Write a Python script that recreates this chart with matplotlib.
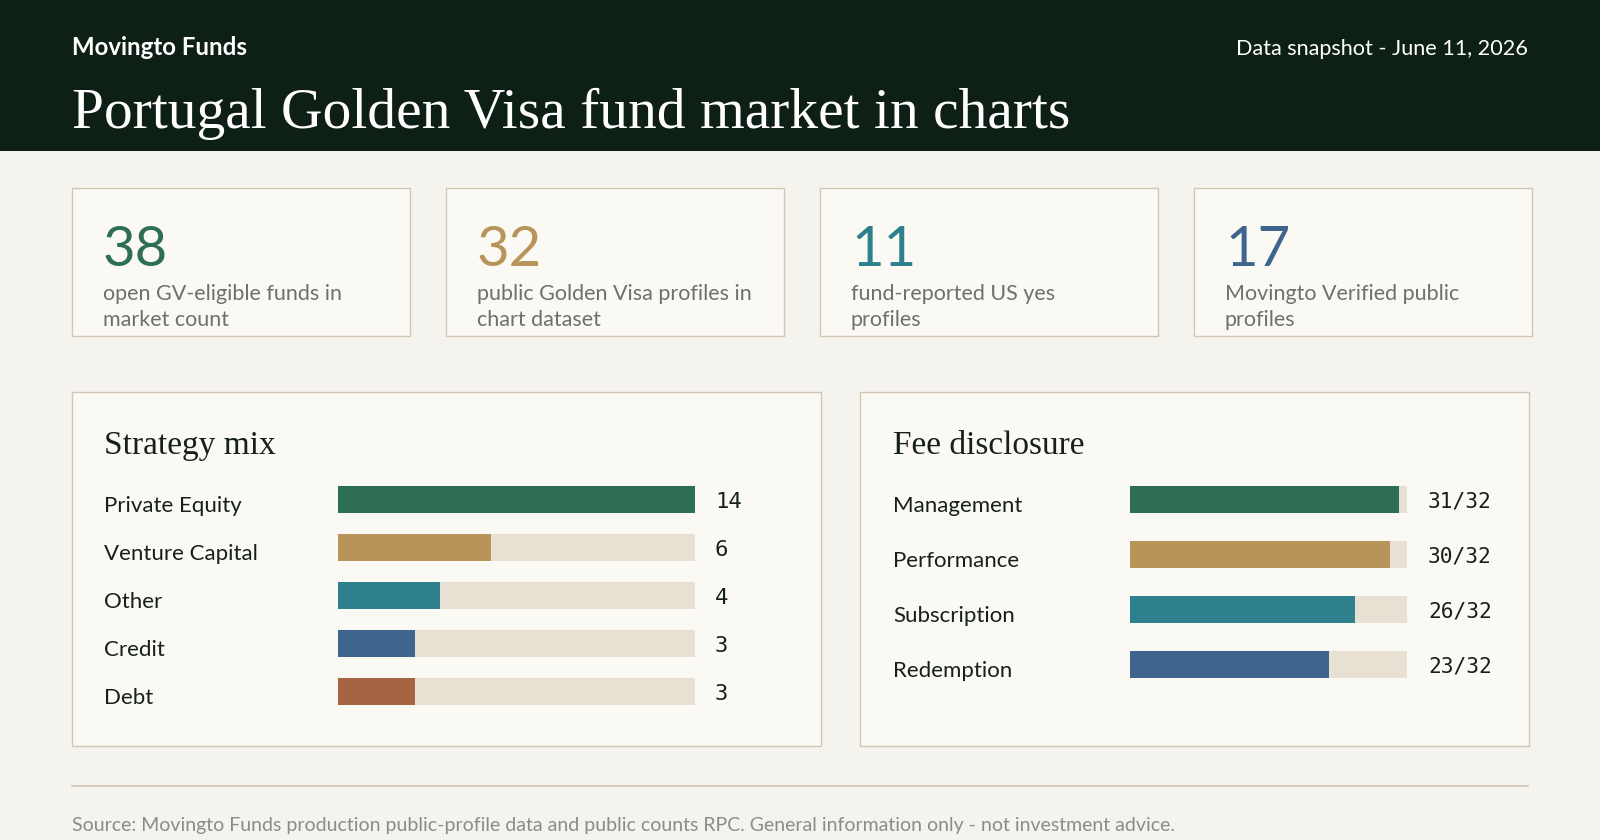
import matplotlib
matplotlib.use("Agg")
import matplotlib.pyplot as plt
import matplotlib.transforms as mtransforms
from matplotlib.patches import Rectangle

# ---- data ----
kpi_values = [38, 32, 11, 17]
kpi_labels = [
    ["open GV-eligible funds in", "market count"],
    ["public Golden Visa profiles in", "chart dataset"],
    ["fund-reported US yes", "profiles"],
    ["Movingto Verified public", "profiles"],
]
strategy_names = ["Private Equity", "Venture Capital", "Other", "Credit", "Debt"]
strategy_counts = [14, 6, 4, 3, 3]
fee_names = ["Management", "Performance", "Subscription", "Redemption"]
fee_disclosed = [31, 30, 26, 23]
fee_total = 32

# ---- style ----
BG = "#f5f3ee"
HEADER = "#0e1f16"
CARD = "#fbf9f4"
BORDER = "#d3c6b2"
TRACK = "#e8e0d3"
INK = "#16201b"
MUTED = "#6d7169"
palette = ["#2e6e52", "#b8935a", "#2e808c", "#3f658e", "#a56542"]

SANS = ["Lato", "DejaVu Sans"]
SERIF = ["Liberation Serif", "DejaVu Serif"]
MONO = ["DejaVu Sans Mono"]

W, H = 1600, 840
fig = plt.figure(figsize=(16, 8.4), dpi=100, facecolor=BG)
bg = fig.add_axes([0, 0, 1, 1])
bg.set_xlim(0, W)
bg.set_ylim(H, 0)
bg.axis("off")
bg.set_zorder(0)


def px_axes(x, y, w, h):
    return fig.add_axes([x / W, 1 - (y + h) / H, w / W, h / H])


# header band
bg.add_patch(Rectangle((0, 0), W, 151, color=HEADER, lw=0))
bg.text(72, 55, "Movingto Funds", color="white", fontsize=17.3, fontweight="bold",
        family=SANS, va="baseline")
bg.text(1528, 55, "Data snapshot - June 11, 2026", color="white", fontsize=15.6,
        family=SANS, va="baseline", ha="right")
bg.text(72, 128, "Portugal Golden Visa fund market in charts", color="white",
        fontsize=41.4, family=SERIF, va="baseline")

# KPI cards
card_x = [72, 446, 820, 1194]
for i, (val, lines) in enumerate(zip(kpi_values, kpi_labels)):
    x0 = card_x[i]
    bg.add_patch(Rectangle((x0, 188), 338, 148, facecolor=CARD, edgecolor=BORDER, lw=1))
    bg.text(x0 + 31, 266, str(val), color=palette[i], fontsize=40.5,
            family=SANS, va="baseline")
    for j, line in enumerate(lines):
        bg.text(x0 + 31, 300 + 26 * j, line, color=MUTED, fontsize=15.5,
                family=SANS, va="baseline")

# chart panels
bg.add_patch(Rectangle((72, 392), 749, 354, facecolor=CARD, edgecolor=BORDER, lw=1))
bg.add_patch(Rectangle((860, 392), 669, 354, facecolor=CARD, edgecolor=BORDER, lw=1))
bg.text(104, 454, "Strategy mix", color=INK, fontsize=24, family=SERIF, va="baseline")
bg.text(893, 454, "Fee disclosure", color=INK, fontsize=24, family=SERIF, va="baseline")

# strategy bars
ax1 = px_axes(338, 475.3, 357.3, 240)
ax1.patch.set_alpha(0)
ax1.axis("off")
rows = range(len(strategy_names))
track_max = max(strategy_counts)
ax1.barh(rows, [track_max] * len(strategy_names), height=26.7 / 48, color=TRACK, lw=0)
ax1.barh(rows, strategy_counts, height=26.7 / 48, color=palette[:len(strategy_names)], lw=0)
ax1.set_xlim(0, track_max)
ax1.set_ylim(len(strategy_names) - 0.5, -0.5)
tr1 = mtransforms.blended_transform_factory(bg.transData, ax1.transData)
for i, (name, cnt) in enumerate(zip(strategy_names, strategy_counts)):
    ax1.annotate(name, xy=(104, i), xycoords=tr1, xytext=(0, -13), textcoords="offset pixels",
                 va="baseline", fontsize=16, family=SANS, color=INK)
    ax1.annotate(str(cnt), xy=(715, i), xycoords=tr1, xytext=(0, -3), textcoords="offset pixels",
                 va="center", fontsize=16, family=MONO, color=INK)

# fee bars
ax2 = px_axes(1130, 471.8, 277.2, 220)
ax2.patch.set_alpha(0)
ax2.axis("off")
rows = range(len(fee_names))
ax2.barh(rows, [fee_total] * len(fee_names), height=26.7 / 55, color=TRACK, lw=0)
ax2.barh(rows, fee_disclosed, height=26.7 / 55, color=palette[:len(fee_names)], lw=0)
ax2.set_xlim(0, fee_total)
ax2.set_ylim(len(fee_names) - 0.5, -0.5)
tr2 = mtransforms.blended_transform_factory(bg.transData, ax2.transData)
for i, (name, n) in enumerate(zip(fee_names, fee_disclosed)):
    ax2.annotate(name, xy=(893, i), xycoords=tr2, xytext=(0, -13), textcoords="offset pixels",
                 va="baseline", fontsize=16, family=SANS, color=INK)
    ax2.annotate(f"{n}/{fee_total}", xy=(1428, i), xycoords=tr2, xytext=(0, -2),
                 textcoords="offset pixels", va="center", fontsize=15.3, family=MONO, color=INK)

# footer
bg.plot([72, 1528], [786, 786], color=BORDER, lw=1.2)
bg.text(72, 831, "Source: Movingto Funds production public-profile data and public counts RPC. "
        "General information only - not investment advice.", color="#8a8d86", fontsize=14,
        family=SANS, va="baseline")

fig.savefig("out.png", dpi=100, facecolor=BG)
